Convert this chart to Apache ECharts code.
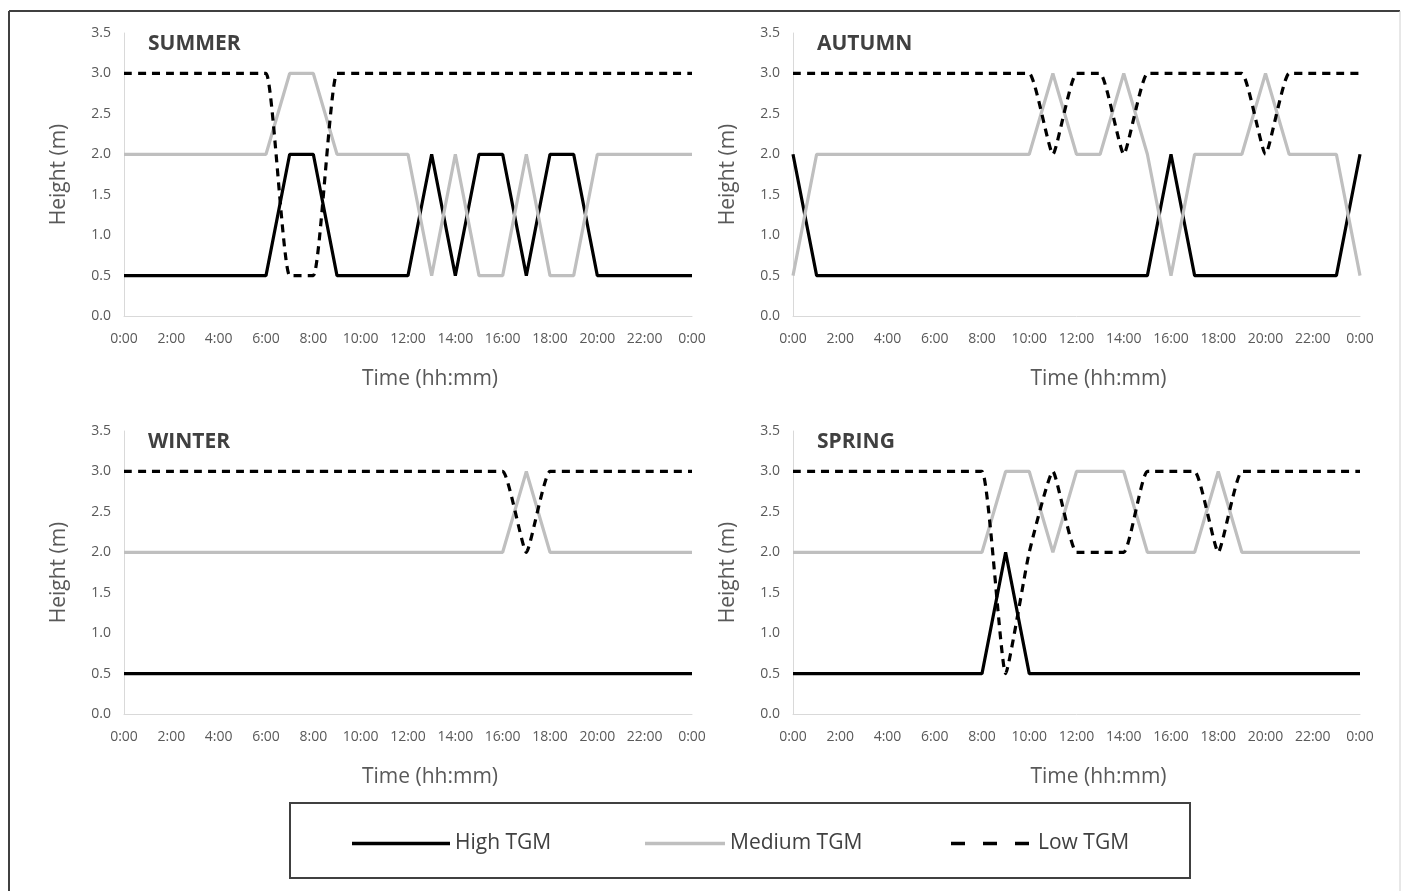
<!DOCTYPE html>
<html>
<head>
<meta charset="utf-8">
<script src="https://cdn.jsdelivr.net/npm/echarts@6/dist/echarts.min.js"></script>
<style>
html,body{margin:0;padding:0;background:#fff;}
#c{width:1402px;height:891px;}
</style>
</head>
<body>
<div id="c"></div>
<script>
// ---- data ----
const hours = [0,1,2,3,4,5,6,7,8,9,10,11,12,13,14,15,16,17,18,19,20,21,22,23,24];
const xTickLabels = {0:'0:00',2:'2:00',4:'4:00',6:'6:00',8:'8:00',10:'10:00',12:'12:00',14:'14:00',16:'16:00',18:'18:00',20:'20:00',22:'22:00',24:'0:00'};
const seasons = ['SUMMER','AUTUMN','WINTER','SPRING'];
const seriesNames = ['High TGM','Medium TGM','Low TGM'];

const summerHigh   = [0.5,0.5,0.5,0.5,0.5,0.5,0.5,2,2,0.5,0.5,0.5,0.5,2,0.5,2,2,0.5,2,2,0.5,0.5,0.5,0.5,0.5];
const summerMedium = [2,2,2,2,2,2,2,3,3,2,2,2,2,0.5,2,0.5,0.5,2,0.5,0.5,2,2,2,2,2];
const summerLow    = [3,3,3,3,3,3,3,0.5,0.5,3,3,3,3,3,3,3,3,3,3,3,3,3,3,3,3];

const autumnHigh   = [2,0.5,0.5,0.5,0.5,0.5,0.5,0.5,0.5,0.5,0.5,0.5,0.5,0.5,0.5,0.5,2,0.5,0.5,0.5,0.5,0.5,0.5,0.5,2];
const autumnMedium = [0.5,2,2,2,2,2,2,2,2,2,2,3,2,2,3,2,0.5,2,2,2,3,2,2,2,0.5];
const autumnLow    = [3,3,3,3,3,3,3,3,3,3,3,2,3,3,2,3,3,3,3,3,2,3,3,3,3];

const winterHigh   = [0.5,0.5,0.5,0.5,0.5,0.5,0.5,0.5,0.5,0.5,0.5,0.5,0.5,0.5,0.5,0.5,0.5,0.5,0.5,0.5,0.5,0.5,0.5,0.5,0.5];
const winterMedium = [2,2,2,2,2,2,2,2,2,2,2,2,2,2,2,2,2,3,2,2,2,2,2,2,2];
const winterLow    = [3,3,3,3,3,3,3,3,3,3,3,3,3,3,3,3,3,2,3,3,3,3,3,3,3];

const springHigh   = [0.5,0.5,0.5,0.5,0.5,0.5,0.5,0.5,0.5,2,0.5,0.5,0.5,0.5,0.5,0.5,0.5,0.5,0.5,0.5,0.5,0.5,0.5,0.5,0.5];
const springMedium = [2,2,2,2,2,2,2,2,2,3,3,2,3,3,3,2,2,2,3,2,2,2,2,2,2];
const springLow    = [3,3,3,3,3,3,3,3,3,0.5,2,3,2,2,2,3,3,3,2,3,3,3,3,3,3];

const panelData = [
  [summerHigh, summerMedium, summerLow],
  [autumnHigh, autumnMedium, autumnLow],
  [winterHigh, winterMedium, winterLow],
  [springHigh, springMedium, springLow]
];

// ---- layout / style ----
const FONT = '"Open Sans", sans-serif';
const grids = [
  {left:124, top:33,  width:568, height:283},
  {left:793, top:33,  width:567, height:283},
  {left:124, top:431, width:568, height:283},
  {left:793, top:431, width:567, height:283}
];
const styles = [
  {color:'#000000', width:3.2, type:'solid', smooth:false},
  {color:'#bfbfbf', width:3.2, type:'solid', smooth:false},
  {color:'#000000', width:3.2, type:[8,6], smooth:0.15}
];

const xAxes = [], yAxes = [], series = [], titles = [];
grids.forEach((g, i) => {
  xAxes.push({
    type:'value', gridIndex:i, min:0, max:24, interval:2,
    axisLine:{show:true, lineStyle:{color:'#d9d9d9', width:1}},
    axisTick:{show:false}, splitLine:{show:false},
    axisLabel:{color:'#595959', fontFamily:FONT, fontSize:14, margin:16,
      formatter:v => xTickLabels[v] !== undefined ? xTickLabels[v] : ''},
    name:'Time (hh:mm)', nameLocation:'middle', nameGap:53,
    nameTextStyle:{color:'#595959', fontFamily:FONT, fontSize:21, padding:[0,0,0,44]}
  });
  yAxes.push({
    type:'value', gridIndex:i, min:0, max:3.5, interval:0.5,
    axisLine:{show:true, lineStyle:{color:'#d9d9d9', width:1}},
    axisTick:{show:false}, splitLine:{show:false},
    axisLabel:{color:'#595959', fontFamily:FONT, fontSize:14, margin:13,
      formatter:v => v.toFixed(1)},
    name:'Height (m)', nameLocation:'middle', nameGap:54,
    nameTextStyle:{color:'#595959', fontFamily:FONT, fontSize:21}
  });
  titles.push({
    text:seasons[i], left:g.left + 19, top:g.top - 4,
    textStyle:{color:'#404040', fontFamily:FONT, fontSize:21, fontWeight:'bold'}
  });
  panelData[i].forEach((vals, k) => {
    const st = styles[k];
    series.push({
      name:seriesNames[k], type:'line', xAxisIndex:i, yAxisIndex:i,
      data:hours.map((h, j) => [h, vals[j]]),
      symbol:'none', smooth:st.smooth, animation:false,
      lineStyle:{color:st.color, width:st.width, type:st.type},
      itemStyle:{color:st.color}
    });
  });
});

const legendText = {color:'#404040', fontFamily:FONT, fontSize:21};
const solidIcon = 'path://M0,0h98v3.5h-98z';
const solidIconShort = 'path://M0,0h80v3.5h-80z';
const dashIcon = 'path://M0,0h14v3.5h-14zM32,0h14v3.5h-14zM64,0h14v3.5h-14z';
const option = {
  backgroundColor:'#ffffff',
  animation:false,
  title:titles,
  grid:grids,
  xAxis:xAxes,
  yAxis:yAxes,
  series:series,
  legend:[
    {data:[{name:seriesNames[0], icon:solidIcon}], left:352, top:833, padding:0, itemWidth:98, itemHeight:3.5, itemGap:0,
     textStyle:legendText, selectedMode:false},
    {data:[{name:seriesNames[1], icon:solidIconShort}], left:645, top:833, padding:0, itemWidth:80, itemHeight:3.5, itemGap:0,
     textStyle:legendText, selectedMode:false},
    {data:[{name:seriesNames[2], icon:dashIcon}], left:951, top:833, padding:0, itemWidth:78, itemHeight:3.5, itemGap:0,
     textStyle:Object.assign({}, legendText, {padding:[0,0,0,4]}), selectedMode:false}
  ],
  graphic:[
    {type:'line', shape:{x1:9, y1:11, x2:1400, y2:11}, style:{stroke:'#404040', lineWidth:2}},
    {type:'line', shape:{x1:9, y1:11, x2:9, y2:891}, style:{stroke:'#404040', lineWidth:2}},
    {type:'line', shape:{x1:1400, y1:11, x2:1400, y2:891}, style:{stroke:'#d0d0d0', lineWidth:1}},
    {type:'rect', shape:{x:290, y:803, width:900, height:75}, style:{fill:'none', stroke:'#404040', lineWidth:2}}
  ]
};

const chart = echarts.init(document.getElementById('c'), null, {renderer:'canvas'});
chart.setOption(option);
</script>
</body>
</html>
